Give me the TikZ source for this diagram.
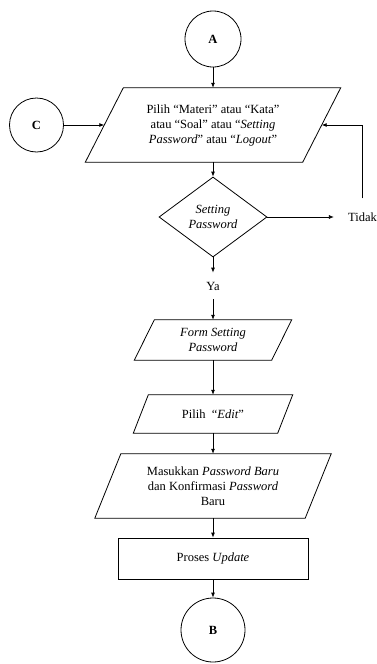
\documentclass[tikz,border=0pt]{standalone}
\usepackage{fontspec}
\setmainfont{Liberation Serif}
\usetikzlibrary{shapes.geometric,arrows.meta}

% Outline of an input/output parallelogram around a named rectangular node;
% #2 is half of the horizontal slant of the sides.
\newcommand{\ioshape}[2]{%
  \draw[line width=0.8pt] ([xshift=#2]#1.north west) -- ([xshift=#2]#1.north east)
    -- ([xshift=-#2]#1.south east) -- ([xshift=-#2]#1.south west) -- cycle;}

\begin{document}
\begin{tikzpicture}[x=1pt,y=-1pt,
  base/.style={font=\fontsize{12.5}{15}\selectfont, align=center, inner sep=0pt},
  conn/.style={circle, draw, line width=0.8pt, base},
  iobody/.style={rectangle, base},
  proc/.style={rectangle, draw, line width=0.8pt, base},
  decide/.style={diamond, draw, line width=0.8pt, base, shape aspect=1.35},
  tag/.style={base},
  flow/.style={line width=0.8pt, -{Latex[length=5pt,width=4pt]}}
]
\useasboundingbox (0,0) rectangle (376,664);

% nodes
\node[conn, minimum size=56pt] (A) at (213,39) {\textbf{A}};
\node[iobody, minimum width=217pt, minimum height=74pt] (P) at (213,125)
  {Pilih “Materi” atau “Kata”\\ atau “Soal” atau “\textit{Setting}\\ \textit{Password}” atau “\textit{Logout}”};
\ioshape{P}{19pt}
\node[conn, minimum size=54pt] (C) at (36.5,125) {\textbf{C}};
\node[decide, minimum width=108pt, minimum height=80pt] (D) at (213,217)
  {\textit{Setting}\\ \textit{Password}};
\node[tag, inner xsep=14pt, inner ysep=14pt] (T) at (362.5,217) {Tidak};
\node[tag, inner ysep=9pt] (Y) at (213,286) {Ya};
\node[iobody, minimum width=137pt, minimum height=40pt] (F) at (213,340)
  {\textit{Form Setting}\\ \textit{Password}};
\ioshape{F}{10pt}
\node[iobody, minimum width=144pt, minimum height=38pt] (E) at (213,414)
  {Pilih \ “\textit{Edit}”};
\ioshape{E}{7.5pt}
\node[iobody, minimum width=210pt, minimum height=64pt] (M) at (213,486)
  {Masukkan \textit{Password Baru}\\ dan Konfirmasi \textit{Password}\\ Baru};
\ioshape{M}{13pt}
\node[proc, minimum width=190pt, minimum height=41pt] (U) at (213,558.5)
  {Proses \textit{Update}};
\node[conn, minimum size=64pt] (B) at (213,630) {\textbf{B}};

% connectors
\draw[flow] (A) -- (P);
\draw[flow] (C) -- (P.west);
\draw[flow] (P) -- (D);
\draw[flow] (D.east) -- (T.west);
\draw[flow] (T.north) |- (P.east);
\draw[flow] (D) -- (Y);
\draw[flow] (Y) -- (F);
\draw[flow] (F) -- (E);
\draw[flow] (E) -- (M);
\draw[flow] (M) -- (U);
\draw[flow] (U) -- (B);
\end{tikzpicture}
\end{document}
